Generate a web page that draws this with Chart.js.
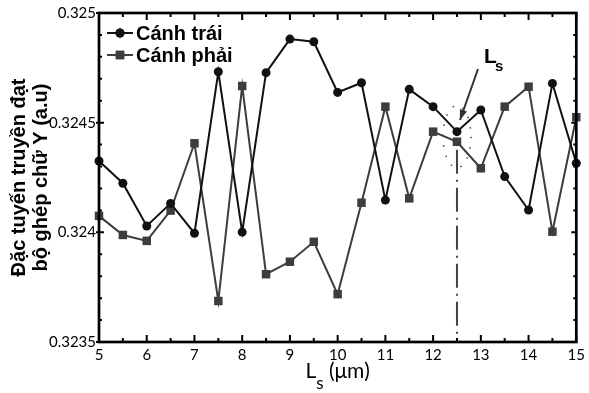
<!DOCTYPE html>
<html>
<head>
<meta charset="utf-8">
<script src="https://cdn.jsdelivr.net/npm/chart.js@4.4.1/dist/chart.umd.min.js"></script>
<style>
  html, body { margin: 0; padding: 0; background: #fff; }
</style>
</head>
<body>
<canvas id="lsChart" width="589" height="393"></canvas>
<script>
// Ls values (um)
let lsValues = [5, 5.5, 6, 6.5, 7, 7.5, 8, 8.5, 9, 9.5, 10, 10.5, 11, 11.5, 12, 12.5, 13, 13.5, 14, 14.5, 15]
let canhTrai = [0.324325, 0.324224, 0.324029, 0.324132, 0.323996, 0.324732, 0.324001, 0.324728, 0.324881, 0.324869,
                0.324638, 0.324682, 0.324147, 0.324652, 0.324573, 0.324459, 0.324558, 0.324254, 0.324102, 0.324679, 0.324315]
let canhPhai = [0.324075, 0.323988, 0.323961, 0.324099, 0.324406, 0.323687, 0.324667, 0.323809, 0.323866, 0.323957,
                0.323718, 0.324135, 0.324573, 0.324155, 0.324459, 0.324413, 0.324292, 0.324573, 0.324664, 0.324003, 0.324525]
let xTickLabels = [5, 6, 7, 8, 9, 10, 11, 12, 13, 14, 15]
let yTickLabels = [0.3235, 0.324, 0.3245, 0.325]
let markedLs = 12.5

function near(v, list) {
    return list.find(t => Math.abs(t - v) < 1e-9)
}

let tickFont = "Lato"
let boldFont = "'Liberation Sans', Arial, sans-serif"

// frame, inward ticks, legend, annotations and axis titles
let decorations = {
    id: "decorations",
    beforeDatasetsDraw(chart) {
        let ctx = chart.ctx
        let x = chart.scales.x, y = chart.scales.y
        let px = x.getPixelForValue(markedLs)
        let i = lsValues.indexOf(markedLs)
        let yTop = y.getPixelForValue(canhPhai[i])
        let yMid = (y.getPixelForValue(canhTrai[i]) + yTop) / 2
        ctx.save()
        // dash-dot vertical line
        ctx.strokeStyle = "#444"
        ctx.lineWidth = 2
        ctx.setLineDash([24, 6, 2, 6])
        ctx.beginPath()
        ctx.moveTo(px, yTop + 8)
        ctx.lineTo(px, chart.chartArea.bottom)
        ctx.stroke()
        // dotted ellipse
        ctx.lineWidth = 1.5
        ctx.setLineDash([1.5, 9])
        ctx.beginPath()
        ctx.ellipse(px, yMid, 14, 31, 0, 0, Math.PI * 2)
        ctx.stroke()
        ctx.restore()
    },
    afterDraw(chart) {
        let ctx = chart.ctx
        let a = chart.chartArea
        let x = chart.scales.x, y = chart.scales.y
        ctx.save()
        // inward ticks (labelled ones longer)
        ctx.strokeStyle = "#000"
        ctx.lineWidth = 2
        ctx.beginPath()
        x.ticks.forEach(t => {
            let p = x.getPixelForValue(t.value)
            let len = near(t.value, xTickLabels) !== undefined ? 7 : 4
            ctx.moveTo(p, a.bottom); ctx.lineTo(p, a.bottom - len)
            ctx.moveTo(p, a.top); ctx.lineTo(p, a.top + len)
        })
        y.ticks.forEach(t => {
            let p = y.getPixelForValue(t.value)
            let major = near(t.value, yTickLabels) !== undefined
            let len = major ? 5 : 3
            ctx.moveTo(a.left - (major ? 3 : 0), p); ctx.lineTo(a.left + len, p)
            ctx.moveTo(a.right, p); ctx.lineTo(a.right - len, p)
        })
        ctx.stroke()
        // frame
        ctx.lineWidth = 2.7
        ctx.strokeRect(a.left, a.top, a.right - a.left, a.bottom - a.top)

        // legend
        let rows = [[chart.data.datasets[0], 33], [chart.data.datasets[1], 55]]
        rows.forEach(([ds, ly]) => {
            ctx.strokeStyle = ds.borderColor
            ctx.fillStyle = ds.backgroundColor
            ctx.lineWidth = 2
            ctx.beginPath()
            ctx.moveTo(107, ly); ctx.lineTo(133, ly)
            ctx.stroke()
            Chart.helpers.drawPoint(ctx, {pointStyle: ds.pointStyle, radius: ds.pointRadius, borderWidth: 0}, 120, ly)
            ctx.fill()
            ctx.fillStyle = "#000"
            ctx.font = "bold 20px " + boldFont
            ctx.textBaseline = "middle"
            ctx.textAlign = "left"
            ctx.fillText(ds.label, 136, ly + 1)
        })

        // Ls label with arrow
        ctx.fillStyle = "#000"
        ctx.font = "bold 21px " + boldFont
        ctx.textBaseline = "alphabetic"
        ctx.fillText("L", 484, 63)
        ctx.font = "bold 15px " + boldFont
        ctx.fillText("s", 495, 71)
        ctx.strokeStyle = "#333"
        ctx.fillStyle = "#333"
        ctx.lineWidth = 2
        let ax0 = 478, ay0 = 69, ax1 = 460, ay1 = 120
        ctx.beginPath()
        ctx.moveTo(ax0, ay0); ctx.lineTo(ax1, ay1)
        ctx.stroke()
        let ang = Math.atan2(ay1 - ay0, ax1 - ax0)
        ctx.beginPath()
        ctx.moveTo(ax1, ay1)
        ctx.lineTo(ax1 - 11 * Math.cos(ang - 0.35), ay1 - 11 * Math.sin(ang - 0.35))
        ctx.lineTo(ax1 - 11 * Math.cos(ang + 0.35), ay1 - 11 * Math.sin(ang + 0.35))
        ctx.closePath()
        ctx.fill()

        // y axis title (two lines)
        ctx.fillStyle = "#000"
        ctx.save()
        ctx.translate(0, (a.top + a.bottom) / 2)
        ctx.rotate(-Math.PI / 2)
        ctx.font = "bold 20px " + boldFont
        ctx.textAlign = "center"
        ctx.textBaseline = "middle"
        ctx.fillText("Đặc tuyến truyền đạt", 0, 19)
        ctx.fillText("bộ ghép chữ Y (a.u)", 0, 41)
        ctx.restore()

        // x axis title with subscript
        ctx.font = "21px " + tickFont
        ctx.textAlign = "left"
        ctx.textBaseline = "alphabetic"
        let cx = (a.left + a.right) / 2
        let wL = ctx.measureText("L").width
        ctx.font = "17px " + tickFont
        let wS = ctx.measureText("s").width
        ctx.font = "21px " + tickFont
        let wR = ctx.measureText(" (μm)").width
        let sx = cx - (wL + wS + wR) / 2
        ctx.fillText("L", sx, 378)
        ctx.font = "17px " + tickFont
        ctx.fillText("s", sx + wL, 389)
        ctx.font = "21px " + tickFont
        ctx.fillText(" (μm)", sx + wL + wS, 378)
        ctx.restore()
    }
}

let CHART = document.getElementById("lsChart")
let lsChart = new Chart(CHART, {
    type: "line",
    data: {
        datasets: [
            {
                label: "Cánh trái",
                data: lsValues.map((v, i) => ({x: v, y: canhTrai[i]})),
                borderColor: "#111",
                backgroundColor: "#111",
                borderWidth: 2,
                pointStyle: "circle",
                pointRadius: 4.5,
                pointBorderWidth: 0,
                lineTension: 0,
                clip: false
            },
            {
                label: "Cánh phải",
                data: lsValues.map((v, i) => ({x: v, y: canhPhai[i]})),
                borderColor: "#3d3d3d",
                backgroundColor: "#3d3d3d",
                borderWidth: 2,
                pointStyle: "rect",
                pointRadius: 6,
                pointBorderWidth: 0,
                lineTension: 0,
                clip: false
            }
        ]
    },
    options: {
        responsive: false,
        animation: false,
        devicePixelRatio: 1,
        layout: {padding: {top: 13, right: 11, left: 0, bottom: 0}},
        plugins: {legend: {display: false}, tooltip: {enabled: false}},
        scales: {
            x: {
                type: "linear",
                min: 5,
                max: 15,
                grid: {display: false, drawTicks: false},
                border: {display: false},
                ticks: {
                    stepSize: 0.5,
                    autoSkip: false,
                    maxRotation: 0,
                    padding: 4,
                    color: "#000",
                    font: {family: tickFont, size: 15},
                    callback: v => near(v, xTickLabels) !== undefined ? String(near(v, xTickLabels)) : ""
                },
                afterFit: s => { s.height = 51 }
            },
            y: {
                min: 0.3235,
                max: 0.325,
                grid: {display: false, drawTicks: false},
                border: {display: false},
                ticks: {
                    stepSize: 0.0001,
                    autoSkip: false,
                    padding: 3,
                    color: "#000",
                    font: {family: tickFont, size: 15},
                    callback: v => near(v, yTickLabels) !== undefined ? String(near(v, yTickLabels)) : ""
                },
                afterFit: s => { s.width = 99 }
            }
        }
    },
    plugins: [decorations]
})
</script>
</body>
</html>
